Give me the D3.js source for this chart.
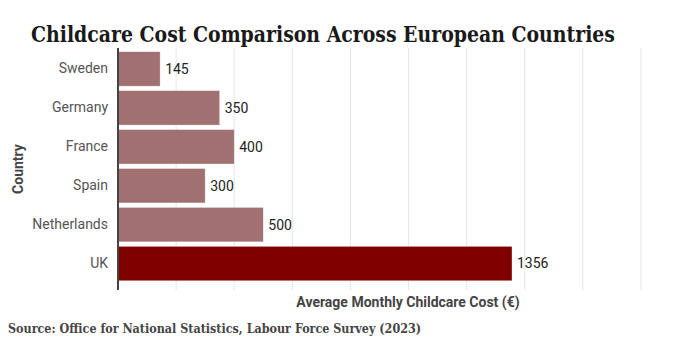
<!DOCTYPE html>
<html>
<head>
<meta charset="utf-8">
<script src="https://cdn.jsdelivr.net/npm/d3@7"></script>
<style>
  body { margin: 0; background: #fff; }
  svg { display: block; }
</style>
</head>
<body>
<svg id="chart" width="695" height="344"></svg>
<script>
// data
var countries = ["Sweden", "Germany", "France", "Spain", "Netherlands", "UK"];
var costs = [145, 350, 400, 300, 500, 1356];
var gridTicks = [200, 400, 600, 800, 1000, 1200, 1400, 1600, 1800];

var svg = d3.select("#chart");

var x = d3.scaleLinear()
    .domain([0, 1800])
    .range([118, 641]);

var y = d3.scaleBand()
    .domain(countries)
    .range([49.5, 283])
    .paddingInner(0.115)
    .paddingOuter(0.057);

// gridlines
svg.append("g")
    .selectAll("line")
    .data(gridTicks)
    .enter()
    .append("line")
    .attr("x1", d => x(d))
    .attr("x2", d => x(d))
    .attr("y1", 48)
    .attr("y2", 290)
    .attr("stroke", "#e6e6e6")
    .attr("stroke-width", 1);

// bars
svg.append("g")
    .selectAll("rect")
    .data(countries)
    .enter()
    .append("rect")
    .attr("x", x(0))
    .attr("y", d => y(d))
    .attr("width", (d, i) => x(costs[i]) - x(0))
    .attr("height", y.bandwidth())
    .attr("fill", d => d == "UK" ? "#800000" : "#a17171")
    .attr("stroke", "rgba(255,255,255,0.6)")
    .attr("stroke-width", 0.6);

// value labels
svg.append("g")
    .selectAll("text")
    .data(countries)
    .enter()
    .append("text")
    .attr("x", (d, i) => x(costs[i]) + 5)
    .attr("y", d => y(d) + y.bandwidth() / 2)
    .attr("dy", "0.35em")
    .style("font-family", "Roboto, sans-serif")
    .style("font-size", "14px")
    .style("fill", "#222")
    .text((d, i) => costs[i]);

// y axis (category labels)
var yAxis = d3.axisLeft(y).tickSize(0).tickPadding(10);
var yg = svg.append("g")
    .attr("transform", "translate(" + x(0) + ",0)")
    .call(yAxis);
yg.select(".domain").remove();
yg.selectAll("text")
    .style("font-family", "Roboto, sans-serif")
    .style("font-size", "14px")
    .style("fill", "#555");

// axis line
svg.append("line")
    .attr("x1", x(0))
    .attr("x2", x(0))
    .attr("y1", 48)
    .attr("y2", 290)
    .attr("stroke", "#444")
    .attr("stroke-width", 2);

// title
svg.append("text")
    .attr("x", 31)
    .attr("y", 42)
    .attr("textLength", 584)
    .attr("lengthAdjust", "spacingAndGlyphs")
    .style("font-family", "'DejaVu Serif Condensed', 'DejaVu Serif', serif")
    .style("font-weight", "bold")
    .style("font-size", "23px")
    .style("fill", "#1a1a1a")
    .text("Childcare Cost Comparison Across European Countries");

// axis titles
svg.append("text")
    .attr("x", 408)
    .attr("y", 307)
    .attr("text-anchor", "middle")
    .style("font-family", "Roboto, sans-serif")
    .style("font-weight", "bold")
    .style("font-size", "14px")
    .style("fill", "#444")
    .text("Average Monthly Childcare Cost (€)");

svg.append("text")
    .attr("transform", "translate(23,169)rotate(-90)")
    .attr("text-anchor", "middle")
    .style("font-family", "Roboto, sans-serif")
    .style("font-weight", "bold")
    .style("font-size", "14px")
    .style("fill", "#444")
    .text("Country");

// source note
svg.append("text")
    .attr("x", 8)
    .attr("y", 333)
    .attr("textLength", 413)
    .attr("lengthAdjust", "spacingAndGlyphs")
    .style("font-family", "'DejaVu Serif Condensed', 'DejaVu Serif', serif")
    .style("font-weight", "bold")
    .style("font-size", "12.5px")
    .style("fill", "#444")
    .text("Source: Office for National Statistics, Labour Force Survey (2023)");
</script>
</body>
</html>
